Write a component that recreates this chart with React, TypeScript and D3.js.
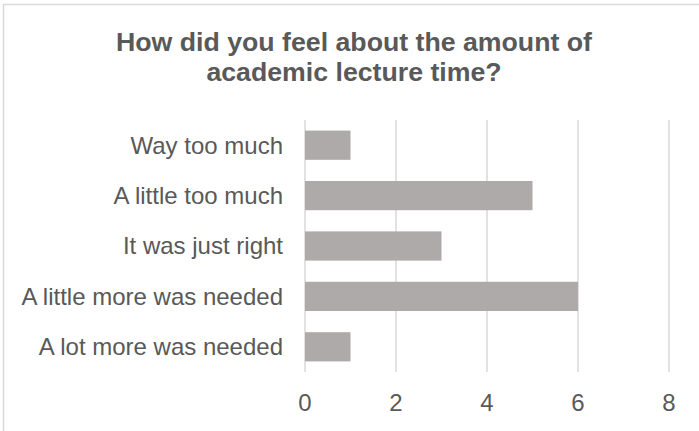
import React from 'react';
import * as d3 from 'd3';

const categories = [
  'Way too much',
  'A little too much',
  'It was just right',
  'A little more was needed',
  'A lot more was needed',
];
const counts = [1, 5, 3, 6, 1];
const xTicks = [0, 2, 4, 6, 8];
const titleLines = ['How did you feel about the amount of', 'academic lecture time?'];

const W = 699;
const H = 431;
const FONT = '"Liberation Sans", Arial, sans-serif';
const TEXT = '#595959';
const GRID = '#d9d9d9';
const BAR = '#aeaaaa';

export default function App() {
  const x = d3.scaleLinear().domain([0, 8]).range([305, 669]);
  const y = d3.scaleBand<string>()
    .domain(categories)
    .range([120, 372])
    .paddingInner(0.42)
    .paddingOuter(0.21);

  return (
    <svg width={W} height={H} style={{ position: 'absolute', left: 0, top: 0, background: '#fff' }}>
      {/* chart frame, runs off the right and bottom */}
      <rect x={3.5} y={4.5} width={W + 20} height={H + 20} fill="#fff" stroke={GRID} strokeWidth={1.5} />

      <text textAnchor="middle" fontFamily={FONT} fontWeight="bold" fontSize={26.7} fill={TEXT}>
        {titleLines.map((t, i) => (
          <tspan key={i} x={354} y={50.5 + i * 30}>{t}</tspan>
        ))}
      </text>

      {xTicks.map(t => (
        <line key={t} x1={x(t)} x2={x(t)} y1={120} y2={372} stroke={GRID} strokeWidth={1.5} />
      ))}

      {categories.map((c, i) => (
        <rect key={c} x={x(0)} y={y(c)} width={x(counts[i]) - x(0)} height={y.bandwidth()} fill={BAR} />
      ))}

      {categories.map(c => (
        <text key={c} x={283} y={(y(c) ?? 0) + y.bandwidth() / 2} dy="0.35em" textAnchor="end"
          fontFamily={FONT} fontSize={24} fill={TEXT}>{c}</text>
      ))}

      {xTicks.map(t => (
        <text key={t} x={x(t)} y={403} dy="0.35em" textAnchor="middle"
          fontFamily={FONT} fontSize={24} fill={TEXT}>{t}</text>
      ))}
    </svg>
  );
}
